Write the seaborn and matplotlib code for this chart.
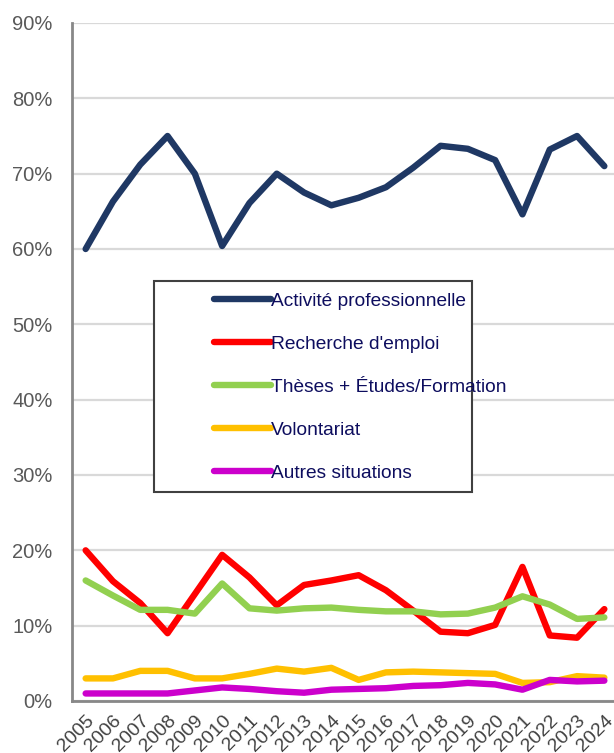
import seaborn as sns
import matplotlib.pyplot as plt
import pandas as pd
from matplotlib.patches import Rectangle
from matplotlib.ticker import FuncFormatter

years = [str(y) for y in range(2005, 2025)]

activite = [60.0, 66.3, 71.2, 75.0, 70.0, 60.4, 66.1, 70.0, 67.5, 65.8,
            66.8, 68.2, 70.8, 73.7, 73.3, 71.8, 64.6, 73.2, 75.0, 71.0]
recherche = [20.0, 15.9, 13.0, 9.0, 14.2, 19.4, 16.4, 12.7, 15.4, 16.0,
             16.7, 14.7, 12.0, 9.2, 9.0, 10.1, 17.8, 8.7, 8.4, 12.2]
theses = [16.0, 14.0, 12.1, 12.1, 11.6, 15.6, 12.3, 12.0, 12.3, 12.4,
          12.1, 11.9, 11.9, 11.5, 11.6, 12.4, 13.9, 12.8, 10.9, 11.1]
volontariat = [3.0, 3.0, 4.0, 4.0, 3.0, 3.0, 3.6, 4.3, 3.9, 4.4,
               2.8, 3.8, 3.9, 3.8, 3.7, 3.6, 2.4, 2.5, 3.3, 3.1]
autres = [1.0, 1.0, 1.0, 1.0, 1.4, 1.8, 1.6, 1.3, 1.1, 1.5,
          1.6, 1.7, 2.0, 2.1, 2.4, 2.2, 1.5, 2.8, 2.6, 2.7]

series = {
    "Activité professionnelle": activite,
    "Recherche d'emploi": recherche,
    "Thèses + Études/Formation": theses,
    "Volontariat": volontariat,
    "Autres situations": autres,
}
colors = ["#1f3864", "#ff0000", "#92d050", "#ffc000", "#cc00cc"]

df = pd.concat(
    [pd.DataFrame({"annee": years, "valeur": v, "situation": k}) for k, v in series.items()],
    ignore_index=True,
)
df["x"] = df.groupby("situation").cumcount()

sns.set_style("white")
plt.rcParams["font.family"] = ["Liberation Sans", "DejaVu Sans"]

fig = plt.figure(figsize=(6.14, 7.53), dpi=100)
ax = fig.add_axes([72 / 614, 52 / 753, 546 / 614, 678 / 753])

sns.lineplot(data=df, x="x", y="valeur", hue="situation", palette=colors,
             linewidth=4.6, ax=ax, legend=False, sort=False,
             solid_joinstyle="round", solid_capstyle="round")

ax.set_xlim(-0.5, len(years) - 0.5)
ax.set_ylim(0, 90)
ax.set_yticks(range(0, 91, 10))
ax.yaxis.set_major_formatter(FuncFormatter(lambda v, p: f"{v:.0f}%"))
ax.grid(axis="y", color="#d9d9d9", linewidth=1.6)
ax.set_axisbelow(True)

ax.set_xticks(range(len(years)))
ax.set_xticklabels(years, rotation=45, ha="right", rotation_mode="anchor")
ax.set_xticks([i - 0.5 for i in range(len(years) + 1)], minor=True)
ax.tick_params(axis="x", which="major", length=0, pad=8, labelsize=14, labelcolor="#404040")
ax.tick_params(axis="x", which="minor", length=5, width=2, color="#888888", direction="out")
ax.tick_params(axis="y", length=5, width=2, color="#888888", direction="out",
               labelsize=14.5, labelcolor="#595959", pad=9)
ax.set_xlabel("")
ax.set_ylabel("")

for s in ["top", "right"]:
    ax.spines[s].set_visible(False)
for s in ["left", "bottom"]:
    ax.spines[s].set_color("#888888")
    ax.spines[s].set_linewidth(2)

# cadre de la légende
x0, y0 = (154 - 72) / 546, (701 - 492) / 678
w, h = (472 - 154) / 546, (492 - 281) / 678
ax.add_patch(Rectangle((x0, y0), w, h, transform=ax.transAxes, fill=True,
                       facecolor="white", edgecolor="#404040", linewidth=1.5,
                       zorder=5, clip_on=False))

handles = [plt.Line2D([], [], color=c, linewidth=4.6, solid_capstyle="round") for c in colors]
leg = ax.legend(handles, list(series.keys()), loc="upper left",
                bbox_to_anchor=((204 - 72) / 546, (701 - 283) / 678),
                frameon=False, handlelength=3.0, handletextpad=0.0,
                labelspacing=1.33, borderpad=0.0, fontsize=13.8,
                labelcolor="#0d0d5e")
leg.set_zorder(6)

plt.savefig("out.png", dpi=100)
